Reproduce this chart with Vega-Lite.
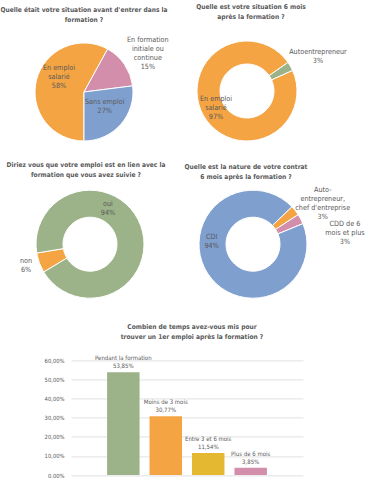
{
  "$schema": "https://vega.github.io/schema/vega-lite/v6.json",
  "padding": {"left": 0, "top": 3, "right": 0, "bottom": 0},
  "background": "white",
  "spacing": 11.2,
  "resolve": {"scale": {"color": "independent", "theta": "independent"}},
  "config": {
    "view": {"stroke": null},
    "font": "'Liberation Sans Narrow', 'DejaVu Sans Condensed', 'Liberation Sans', sans-serif",
    "locale": {"number": {"decimal": ",", "thousands": " ", "grouping": [3], "currency": ["", " €"]}},
    "title": {"fontSize": 6.6, "fontWeight": "bold", "color": "#595959", "lineHeight": 10, "frame": "group", "anchor": "middle", "baseline": "bottom"},
    "text": {"color": "#595959", "fontSize": 7.2, "lineHeight": 9, "lineBreak": "\n", "baseline": "middle"},
    "arc": {"stroke": "white", "strokeWidth": 1}
  },
  "vconcat": [
    {
      "hconcat": [
        {
          "width": 166, "height": 116,
          "title": {"text": ["Quelle était votre situation avant d'entrer dans la", "formation ?"], "offset": 10.8},
          "data": {"values": [
            {"situation": "En emploi\nsalarié", "part": 0.58, "o": 1},
            {"situation": "En formation\ninitiale ou\ncontinue", "part": 0.15, "o": 2},
            {"situation": "Sans emploi", "part": 0.27, "o": 3}
          ]},
          "transform": [
            {"stack": "part", "groupby": [], "sort": [{"field": "o", "order": "ascending"}], "as": ["t0", "t1"]},
            {"calculate": "(datum.t0 + datum.t1) / 2", "as": "mid"},
            {"calculate": "datum.situation + '\\n' + format(datum.part, '.0%')", "as": "lbl"}
          ],
          "layer": [
            {"mark": {"type": "arc", "outerRadius": 49}, "encoding": {
              "theta": {"field": "t0", "type": "quantitative", "scale": {"domain": [0, 1], "range": [3.1416, 9.4248]}},
              "theta2": {"field": "t1"},
              "color": {"field": "situation", "type": "nominal", "legend": null, "scale": {"domain": ["En emploi\nsalarié", "En formation\ninitiale ou\ncontinue", "Sans emploi"], "range": ["#F4A442", "#D38EAC", "#7F9FCF"]}}}},
            {"transform": [{"filter": "datum.o === 1"}], "mark": {"type": "text", "radius": 25, "dx": -0.8, "dy": -17.8}, "encoding": {"theta": {"field": "mid", "type": "quantitative", "stack": null}, "text": {"field": "lbl", "type": "nominal"}}},
            {"transform": [{"filter": "datum.o === 2"}], "mark": {"type": "text", "radius": 76, "dx": 1, "dy": -9.3}, "encoding": {"theta": {"field": "mid", "type": "quantitative", "stack": null}, "text": {"field": "lbl", "type": "nominal"}}},
            {"transform": [{"filter": "datum.o === 3"}], "mark": {"type": "text", "radius": 25, "dx": 2, "dy": -7}, "encoding": {"theta": {"field": "mid", "type": "quantitative", "stack": null}, "text": {"field": "lbl", "type": "nominal"}}}
          ]
        },
        {
          "width": 160, "height": 114,
          "title": {"text": ["Quelle est votre situation 6 mois", "après la formation ?"], "offset": 13.8, "dx": 4},
          "data": {"values": [
            {"situation": "Autoentrepreneur", "part": 0.03, "o": 1},
            {"situation": "En emploi\nsalarié", "part": 0.97, "o": 2}
          ]},
          "transform": [
            {"stack": "part", "groupby": [], "sort": [{"field": "o", "order": "ascending"}], "as": ["t0", "t1"]},
            {"calculate": "(datum.t0 + datum.t1) / 2", "as": "mid"},
            {"calculate": "datum.situation + '\\n' + format(datum.part, '.0%')", "as": "lbl"}
          ],
          "layer": [
            {"mark": {"type": "arc", "outerRadius": 50, "innerRadius": 27}, "encoding": {
              "theta": {"field": "t0", "type": "quantitative", "scale": {"domain": [0, 1], "range": [0.96, 7.2432]}},
              "theta2": {"field": "t1"},
              "color": {"field": "situation", "type": "nominal", "legend": null, "scale": {"domain": ["Autoentrepreneur", "En emploi\nsalarié"], "range": ["#9CB38A", "#F4A442"]}}}},
            {"transform": [{"filter": "datum.o === 1"}], "mark": {"type": "text", "radius": 80, "dx": 1.4, "dy": 0.5}, "encoding": {"theta": {"field": "mid", "type": "quantitative", "stack": null}, "text": {"field": "lbl", "type": "nominal"}}},
            {"transform": [{"filter": "datum.o === 2"}], "mark": {"type": "text", "radius": 37, "dx": 1.2, "dy": -10.3}, "encoding": {"theta": {"field": "mid", "type": "quantitative", "stack": null}, "text": {"field": "lbl", "type": "nominal"}}}
          ]
        }
      ],
      "spacing": 0,
      "bounds": "flush",
      "resolve": {"scale": {"color": "independent", "theta": "independent"}}
    },
    {
      "vconcat": [
        {
          "hconcat": [
            {
              "width": 178, "height": 116,
              "title": {"text": ["Diriez vous que votre emploi est en lien avec la", "formation que vous avez suivie ?"], "offset": 7.8, "dx": -4},
              "data": {"values": [
                {"reponse": "non", "part": 0.06, "o": 1},
                {"reponse": "oui", "part": 0.94, "o": 2}
              ]},
              "transform": [
                {"stack": "part", "groupby": [], "sort": [{"field": "o", "order": "ascending"}], "as": ["t0", "t1"]},
                {"calculate": "(datum.t0 + datum.t1) / 2", "as": "mid"},
                {"calculate": "datum.reponse + '\\n' + format(datum.part, '.0%')", "as": "lbl"}
              ],
              "layer": [
                {"mark": {"type": "arc", "outerRadius": 54, "innerRadius": 27}, "encoding": {
                  "theta": {"field": "t0", "type": "quantitative", "scale": {"domain": [0, 1], "range": [4.171, 10.4542]}},
                  "theta2": {"field": "t1"},
                  "color": {"field": "reponse", "type": "nominal", "legend": null, "scale": {"domain": ["non", "oui"], "range": ["#F4A442", "#9CB38A"]}}}},
                {"transform": [{"filter": "datum.o === 1"}], "mark": {"type": "text", "radius": 67, "dx": -1.1, "dy": -6.6}, "encoding": {"theta": {"field": "mid", "type": "quantitative", "stack": null}, "text": {"field": "lbl", "type": "nominal"}}},
                {"transform": [{"filter": "datum.o === 2"}], "mark": {"type": "text", "radius": 39.5, "dx": -19.1, "dy": -26.4}, "encoding": {"theta": {"field": "mid", "type": "quantitative", "stack": null}, "text": {"field": "lbl", "type": "nominal"}}}
              ]
            },
            {
              "width": 148, "height": 116,
              "title": {"text": ["Quelle est la nature de votre contrat", "6 mois après la formation ?"], "offset": 5.8, "dx": -7},
              "data": {"values": [
                {"contrat": "Auto-\nentrepreneur,\nchef d'entreprise", "part": 0.03, "o": 1},
                {"contrat": "CDD de 6\nmois et plus", "part": 0.03, "o": 2},
                {"contrat": "CDI", "part": 0.94, "o": 3}
              ]},
              "transform": [
                {"stack": "part", "groupby": [], "sort": [{"field": "o", "order": "ascending"}], "as": ["t0", "t1"]},
                {"calculate": "(datum.t0 + datum.t1) / 2", "as": "mid"},
                {"calculate": "datum.contrat + '\\n' + format(datum.part, '.0%')", "as": "lbl"}
              ],
              "layer": [
                {"mark": {"type": "arc", "outerRadius": 54, "innerRadius": 27}, "encoding": {
                  "theta": {"field": "t0", "type": "quantitative", "scale": {"domain": [0, 1], "range": [0.8029, 7.0861]}},
                  "theta2": {"field": "t1"},
                  "color": {"field": "contrat", "type": "nominal", "legend": null, "scale": {"domain": ["Auto-\nentrepreneur,\nchef d'entreprise", "CDD de 6\nmois et plus", "CDI"], "range": ["#F4A442", "#D38EAC", "#7F9FCF"]}}}},
                {"transform": [{"filter": "datum.o === 1"}], "mark": {"type": "text", "radius": 80, "dx": 7.2, "dy": -3.9}, "encoding": {"theta": {"field": "mid", "type": "quantitative", "stack": null}, "text": {"field": "lbl", "type": "nominal"}}},
                {"transform": [{"filter": "datum.o === 2"}], "mark": {"type": "text", "radius": 93, "dx": 9.7, "dy": 22.9}, "encoding": {"theta": {"field": "mid", "type": "quantitative", "stack": null}, "text": {"field": "lbl", "type": "nominal"}}},
                {"transform": [{"filter": "datum.o === 3"}], "mark": {"type": "text", "radius": 42, "dx": -6.2, "dy": -30}, "encoding": {"theta": {"field": "mid", "type": "quantitative", "stack": null}, "text": {"field": "lbl", "type": "nominal"}}}
              ]
            }
          ],
          "spacing": 0,
          "bounds": "flush",
          "resolve": {"scale": {"color": "independent", "theta": "independent"}}
        },
        {
          "hconcat": [
            {
              "width": 70, "height": 114.7,
              "data": {"values": [{"v": 0}]},
              "mark": {"type": "text"},
              "encoding": {"text": {"value": ""}}
            },
            {
              "width": 232, "height": 114.7,
              "title": {"text": ["Combien de temps avez-vous mis pour", "trouver un 1er emploi après la formation ?"], "offset": 14.7, "dx": 5},
              "data": {"values": [
                {"delai": "Pendant la formation", "part": 0.5385},
                {"delai": "Moins de 3 mois", "part": 0.3077},
                {"delai": "Entre 3 et 6 mois", "part": 0.1154},
                {"delai": "Plus de 6 mois", "part": 0.0385}
              ]},
              "transform": [{"calculate": "datum.delai + '\\n' + format(datum.part, '.2%')", "as": "lbl"}],
              "encoding": {
                "x": {"field": "delai", "type": "nominal", "sort": null, "axis": null, "scale": {"paddingInner": 0.235, "paddingOuter": 0.85}},
                "y": {"field": "part", "type": "quantitative", "scale": {"domain": [0, 0.6]}, "axis": {"title": null, "format": ".2%", "values": [0, 0.1, 0.2, 0.3, 0.4, 0.5, 0.6], "grid": true, "gridColor": "#d9d9d9", "gridWidth": 0.8, "domain": false, "ticks": false, "tickSize": 0, "labelPadding": 7, "labelFontSize": 5.8, "labelColor": "#595959"}}
              },
              "layer": [
                {"mark": {"type": "bar"}, "encoding": {"color": {"field": "delai", "type": "nominal", "legend": null, "scale": {"domain": ["Pendant la formation", "Moins de 3 mois", "Entre 3 et 6 mois", "Plus de 6 mois"], "range": ["#9CB38A", "#F4A442", "#E5B832", "#D38EAC"]}}}},
                {"mark": {"type": "text", "baseline": "bottom", "dy": -11, "fontSize": 6, "lineHeight": 8}, "encoding": {"text": {"field": "lbl", "type": "nominal"}}}
              ]
            }
          ],
          "spacing": 0,
          "bounds": "flush"
        }
      ],
      "spacing": 21.2,
      "resolve": {"scale": {"color": "independent", "theta": "independent"}}
    }
  ]
}
